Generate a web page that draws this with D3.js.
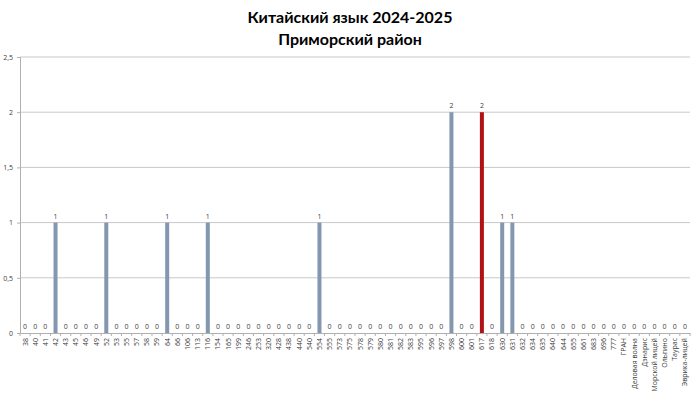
<!DOCTYPE html>
<html>
<head>
<meta charset="utf-8">
<script src="https://cdn.jsdelivr.net/npm/d3@7"></script>
<style>
  body { margin: 0; background: #fff; }
  #chart text { font-family: "Open Sans", "DejaVu Sans", sans-serif; }
</style>
</head>
<body>
<div id="chart"></div>
<script>
// школы и значения
const schools = ["38", "40", "41", "42", "43", "45", "46", "49", "52", "53", "55", "57", "58", "59",
    "64", "66", "106", "113", "116", "154", "165", "199", "246", "253", "320", "428", "438", "440",
    "540", "554", "555", "573", "575", "578", "579", "580", "581", "582", "583", "595", "596", "597",
    "598", "600", "601", "617", "618", "630", "631", "632", "634", "635", "640", "644", "655", "661",
    "683", "696", "777", "ГРАН", "Деловая волна", "Дэнарис", "Морской лицей", "Ольгино", "Таурас",
    "Эврика-лицей"];
const counts = [0, 0, 0, 1, 0, 0, 0, 0, 1, 0, 0, 0, 0, 0,
    1, 0, 0, 0, 1, 0, 0, 0, 0, 0, 0, 0, 0, 0,
    0, 1, 0, 0, 0, 0, 0, 0, 0, 0, 0, 0, 0, 0,
    2, 0, 0, 2, 0, 1, 1, 0, 0, 0, 0, 0, 0, 0,
    0, 0, 0, 0, 0, 0, 0, 0, 0,
    0];
const highlight = "617";
const yTicks = [0, 0.5, 1, 1.5, 2, 2.5];

const width = 700, height = 394;
const margin = {top: 57, right: 10, bottom: 61, left: 20};

const svg = d3.select("#chart").append("svg")
    .attr("width", width)
    .attr("height", height);

const x = d3.scaleBand()
    .domain(schools)
    .range([margin.left, width - margin.right]);

const y = d3.scaleLinear()
    .domain([0, 2.5])
    .range([height - margin.bottom, margin.top]);

// titles
svg.append("text")
    .attr("x", 350).attr("y", 23)
    .attr("text-anchor", "middle")
    .style("font-family", "Lato, 'Open Sans', sans-serif")
    .style("font-weight", "bold")
    .style("font-size", "16px")
    .attr("fill", "#000")
    .text("Китайский язык 2024-2025");
svg.append("text")
    .attr("x", 350).attr("y", 45)
    .attr("text-anchor", "middle")
    .style("font-family", "Lato, 'Open Sans', sans-serif")
    .style("font-weight", "bold")
    .style("font-size", "16px")
    .attr("fill", "#000")
    .text("Приморский район");

// grid
svg.append("g")
    .selectAll("line")
    .data(yTicks.slice(1))
    .enter().append("line")
    .attr("x1", margin.left).attr("x2", width - margin.right)
    .attr("y1", d => y(d)).attr("y2", d => y(d))
    .attr("stroke", "#c8c8c8");

// y axis
const yAxis = d3.axisLeft(y)
    .tickValues(yTicks)
    .tickSize(3)
    .tickFormat(d => String(d).replace(".", ","));
const gy = svg.append("g")
    .attr("transform", `translate(${margin.left},0)`)
    .call(yAxis);
gy.select(".domain").attr("stroke", "#b0b0b0");
gy.selectAll(".tick line").attr("stroke", "#b0b0b0");
gy.selectAll(".tick text").attr("fill", "#404040").style("font-size", "7px").attr("x", -7);

// x axis
const xAxis = d3.axisBottom(x).tickSize(0);
const gx = svg.append("g")
    .attr("transform", `translate(0,${y(0)})`)
    .call(xAxis);
gx.select(".domain").attr("stroke", "#b0b0b0");
gx.selectAll(".tick text")
    .attr("fill", "#404040")
    .style("font-size", "7px")
    .attr("transform", "rotate(-90)")
    .attr("text-anchor", "end")
    .attr("x", -5)
    .attr("y", 0)
    .attr("dy", "0.35em");

// separators between categories
svg.append("g")
    .selectAll("line")
    .data(schools.concat(["end"]))
    .enter().append("line")
    .attr("x1", (d, i) => margin.left + i * x.step())
    .attr("x2", (d, i) => margin.left + i * x.step())
    .attr("y1", y(0)).attr("y2", y(0) + 3)
    .attr("stroke", "#b0b0b0");

// bars
const barW = 4;
svg.append("g")
    .selectAll("rect")
    .data(schools)
    .enter().append("rect")
    .attr("x", d => x(d) + x.bandwidth() / 2 - barW / 2)
    .attr("width", barW)
    .attr("y", (d, i) => y(counts[i]))
    .attr("height", (d, i) => y(0) - y(counts[i]))
    .attr("fill", d => d === highlight ? "#b01313" : "#8497b0");

// value labels
svg.append("g")
    .selectAll("text")
    .data(schools)
    .enter().append("text")
    .attr("x", d => x(d) + x.bandwidth() / 2)
    .attr("y", (d, i) => y(counts[i]) - 4)
    .attr("text-anchor", "middle")
    .attr("fill", "#404040")
    .style("font-size", "7px")
    .text((d, i) => counts[i]);
</script>
</body>
</html>
